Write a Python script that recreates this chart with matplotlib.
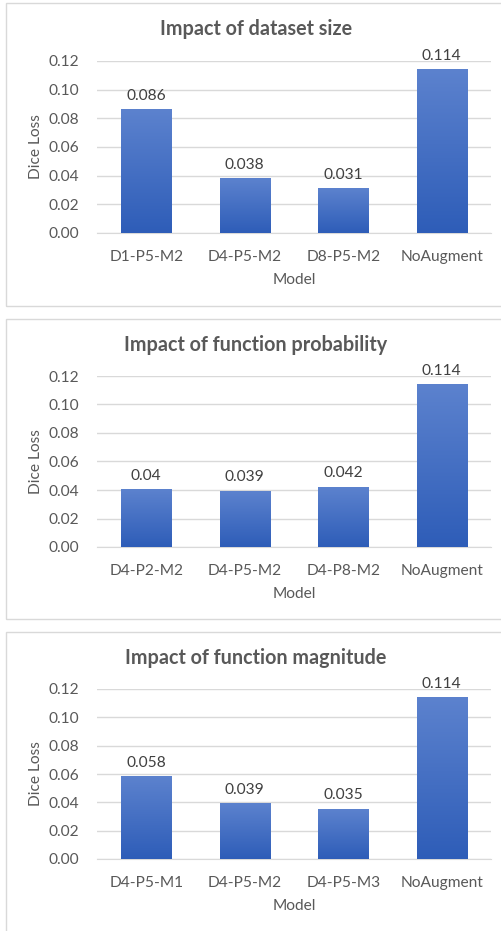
import matplotlib

matplotlib.use("Agg")
import matplotlib.pyplot as plt
import numpy as np
from matplotlib.patches import Rectangle

plt.rcParams["font.family"] = ["Lato", "DejaVu Sans"]

titles = [
    "Impact of dataset size",
    "Impact of function probability",
    "Impact of function magnitude",
]
models_size = ["D1-P5-M2", "D4-P5-M2", "D8-P5-M2", "NoAugment"]
loss_size = [0.086, 0.038, 0.031, 0.114]
labels_size = ["0.086", "0.038", "0.031", "0.114"]

models_prob = ["D4-P2-M2", "D4-P5-M2", "D4-P8-M2", "NoAugment"]
loss_prob = [0.040, 0.039, 0.042, 0.114]
labels_prob = ["0.04", "0.039", "0.042", "0.114"]

models_mag = ["D4-P5-M1", "D4-P5-M2", "D4-P5-M3", "NoAugment"]
loss_mag = [0.058, 0.039, 0.035, 0.114]
labels_mag = ["0.058", "0.039", "0.035", "0.114"]

yticks = [0.0, 0.02, 0.04, 0.06, 0.08, 0.10, 0.12]

TEXT = "#595959"
GRID = "#d9d9d9"
TOP = np.array([92, 130, 206]) / 255
BOTTOM = np.array([46, 93, 184]) / 255
FS = 11.2

W, H = 501, 931
fig = plt.figure(figsize=(W / 100, H / 100), dpi=100)

# (panel top px, panel bottom px, axes top px, axes bottom px)
layout = [
    (3, 306, 61, 233),
    (319, 619, 376, 547),
    (632, 945, 689, 859),
]
panels = [
    (models_size, loss_size, labels_size),
    (models_prob, loss_prob, labels_prob),
    (models_mag, loss_mag, labels_mag),
]

grad = np.linspace(0, 1, 256)[:, None, None]
grad_img = TOP * (1 - grad) + BOTTOM * grad

for title, (models, values, labels), (p_top, p_bot, a_top, a_bot) in zip(
    titles, panels, layout
):
    fig.add_artist(
        Rectangle(
            (6 / W, 1 - p_bot / H),
            (W + 10 - 6) / W,
            (p_bot - p_top) / H,
            transform=fig.transFigure,
            fill=False,
            edgecolor=GRID,
            linewidth=1.0,
        )
    )
    ax = fig.add_axes([97 / W, 1 - a_bot / H, (491 - 97) / W, (a_bot - a_top) / H])
    x = np.arange(len(models))
    bars = ax.bar(x, values, width=0.51, color="none", zorder=3)
    for bar, text in zip(bars, labels):
        bx, by = bar.get_x(), bar.get_y()
        bw, bh = bar.get_width(), bar.get_height()
        ax.imshow(
            grad_img,
            extent=(bx, bx + bw, by, by + bh),
            aspect="auto",
            zorder=3,
            origin="upper",
        )
        ax.annotate(
            text,
            (bx + bw / 2, by + bh),
            xytext=(0, 5),
            textcoords="offset points",
            ha="center",
            va="bottom",
            fontsize=FS,
            color="#404040",
            annotation_clip=False,
        )
    ax.set_xlim(-0.5, len(models) - 0.5)
    ax.set_ylim(0, 0.12)
    ax.set_yticks(yticks)
    ax.set_yticklabels([f"{v:.2f}" for v in yticks])
    ax.set_xticks(x)
    ax.set_xticklabels(models)
    ax.tick_params(length=0, labelsize=FS, labelcolor=TEXT)
    ax.tick_params(axis="y", pad=13)
    ax.tick_params(axis="x", pad=12)
    ax.grid(axis="y", color=GRID, linewidth=1.0, zorder=0)
    ax.set_axisbelow(True)
    for side in ["top", "right", "left"]:
        ax.spines[side].set_visible(False)
    ax.spines["bottom"].set_color(GRID)
    ax.set_xlabel("Model", fontsize=FS, color=TEXT, labelpad=7)
    ax.set_ylabel("Dice Loss", fontsize=FS, color=TEXT, labelpad=4)
    fig.text(
        256 / W,
        1 - (p_top + 26) / H,
        title,
        ha="center",
        va="center",
        fontsize=14.2,
        fontweight="bold",
        color=TEXT,
    )

fig.savefig("out.png", dpi=100)
